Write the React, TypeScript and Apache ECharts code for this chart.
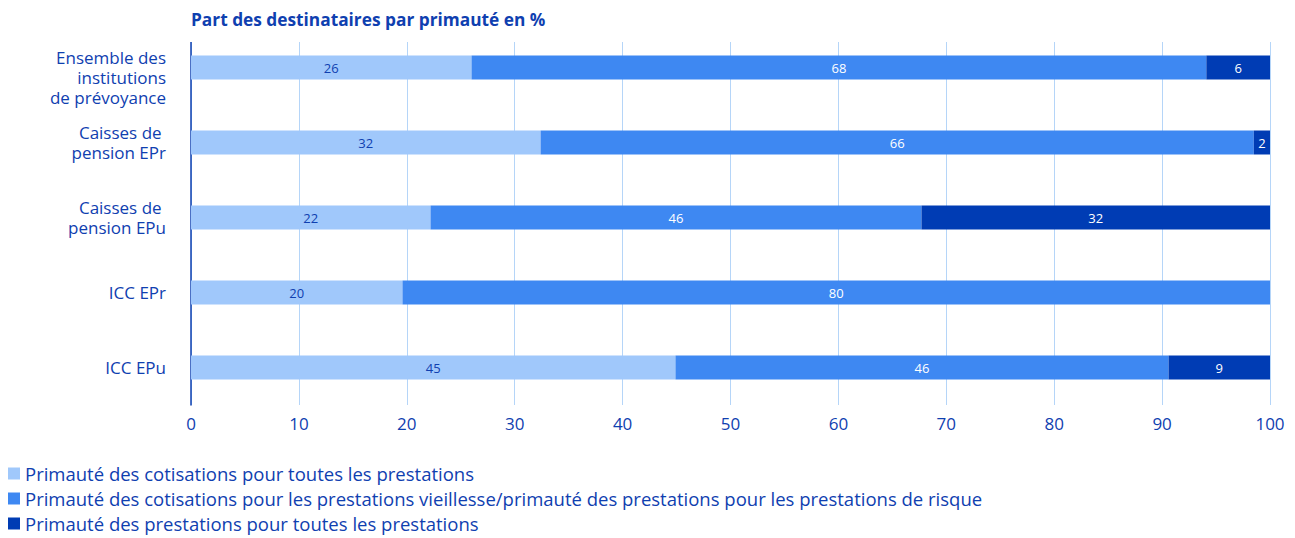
import React, { useEffect, useRef } from "react";
import * as echarts from "echarts";

const titleText = "Part des destinataires par primauté en %";
const categories = [
  "Ensemble des\ninstitutions\nde prévoyance",
  "Caisses de \npension EPr",
  "Caisses de \npension EPu",
  "ICC EPr",
  "ICC EPu",
];
const seriesNames = [
  "Primauté des cotisations pour toutes les prestations",
  "Primauté des cotisations pour les prestations vieillesse/primauté des prestations pour les prestations de risque",
  "Primauté des prestations pour toutes les prestations",
];
const lightValues = [26.0, 32.4, 22.2, 19.6, 44.9];
const midValues = [68.1, 66.1, 45.5, 80.4, 45.7];
const darkValues = [5.9, 1.5, 32.3, 0, 9.4];
const colors = ["#a0c8fb", "#3e88f2", "#003cb4"];
const textBlue = "#0f40b0";
const fontFamily = "'Open Sans', 'Noto Sans', sans-serif";

export default function App() {
  const ref = useRef<HTMLDivElement>(null);
  useEffect(() => {
    if (!ref.current) return;
    const chart = echarts.init(ref.current, null, { renderer: "svg" });
    const mk = (name: string, data: number[], idx: number) => ({
      name,
      type: "bar",
      stack: "total",
      data,
      barWidth: 24,
      itemStyle: { color: colors[idx] },
      label: {
        show: true,
        position: "inside",
        fontSize: 13,
        fontFamily,
        color: idx === 0 ? textBlue : "#ffffff",
        formatter: (p: any) => (p.value > 0 ? String(Math.round(p.value)) : ""),
      },
    });
    chart.setOption({
      animation: false,
      textStyle: { fontFamily },
      title: {
        text: titleText,
        left: 186,
        top: 6,
        z: 10,
        textStyle: { fontSize: 17.3, fontWeight: "bold", color: textBlue, fontFamily },
      },
      legend: {
        orient: "vertical",
        left: 8,
        top: 464,
        padding: 0,
        itemWidth: 12,
        itemHeight: 12,
        itemGap: 6,
        icon: "rect",
        textStyle: { fontSize: 18.5, color: textBlue, fontFamily },
        data: seriesNames,
      },
      grid: { left: 191, right: 25, top: 30, bottom: 133 },
      xAxis: {
        type: "value",
        min: 0,
        max: 100,
        interval: 10,
        axisLine: { show: false },
        axisTick: { show: false },
        splitLine: { lineStyle: { color: "#b5d5f8", width: 1 } },
        axisLabel: { fontSize: 17, color: textBlue, margin: 10, fontFamily },
      },
      yAxis: {
        type: "category",
        inverse: true,
        data: categories,
        axisLine: { show: true, lineStyle: { color: textBlue, width: 1.5 } },
        axisTick: { show: false },
        axisLabel: {
          fontSize: 17,
          lineHeight: 20,
          color: textBlue,
          margin: 25,
          fontFamily,
          formatter: (v: string, i: number) => (i === 0 ? "\n" + v : v),
        },
      },
      graphic: [
        {
          type: "rect",
          z: 5,
          shape: { x: 185, y: 0, width: 1100, height: 42 },
          style: { fill: "#ffffff" },
        },
      ],
      series: [
        mk(seriesNames[0], lightValues, 0),
        mk(seriesNames[1], midValues, 1),
        mk(seriesNames[2], darkValues, 2),
      ],
    });
    return () => chart.dispose();
  }, []);
  return (
    <div
      ref={ref}
      style={{ position: "fixed", left: 0, top: 0, width: 1295, height: 538, background: "#ffffff" }}
    />
  );
}
